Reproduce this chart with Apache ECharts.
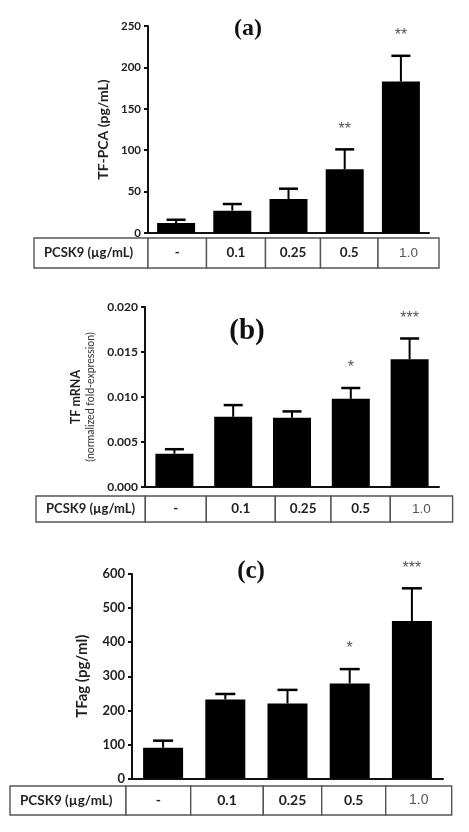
<!DOCTYPE html>
<html>
<head>
<meta charset="utf-8">
<script src="https://cdn.jsdelivr.net/npm/echarts@6/dist/echarts.min.js"></script>
<style>
html, body { margin: 0; padding: 0; background: #fff; }
#main { width: 469px; height: 832px; }
</style>
</head>
<body>
<div id="main"></div>
<script>
// doses shown in the table under each panel
var doses = ['-', '0.1', '0.25', '0.5', '1.0'];
var rowLabel = 'PCSK9 (µg/mL)';

// (a) TF-PCA
var pcaMean = [12, 27, 41, 77, 183];
var pcaSem = [4, 8, 12.5, 24, 31];
var pcaSig = ['', '', '', '**', '**'];

// (b) TF mRNA
var mrnaMean = [0.0037, 0.0078, 0.0077, 0.0098, 0.0142];
var mrnaSem = [0.0005, 0.0013, 0.0007, 0.0012, 0.0023];
var mrnaSig = ['', '', '', '*', '***'];

// (c) TFag
var tfagMean = [90, 232, 220, 279, 462];
var tfagSem = [21, 16, 40, 42, 96];
var tfagSig = ['', '', '', '*', '***'];

var myChart = echarts.init(document.getElementById('main'));

var panels = [{
    tag: 'a', mean: pcaMean, sem: pcaSem, sig: pcaSig,
    max: 250, step: 50, digits: 0, labelSize: 11.5,
    name: 'TF-PCA (pg/mL)', nameGap: 32,
    nameStyle: { fontSize: 14, fontWeight: 'bold', color: '#222', fontFamily: 'Lato' },
    grid: { left: 148, top: 26, width: 281, height: 207 }, barWidth: 38,
    title: { x: 243, y: 12, size: 24 },
    table: { left: 34, top: 238, height: 30, size: 13.5, edges: [0, 114, 172.5, 231.5, 286.5, 344, 405] }
}, {
    tag: 'b', mean: mrnaMean, sem: mrnaSem, sig: mrnaSig,
    max: 0.02, step: 0.005, digits: 3, labelSize: 12,
    name: '{t|TF mRNA}\n{s|(normalized fold-expression)}', nameGap: 48,
    nameStyle: {
        rich: {
            t: { fontSize: 12.5, fontWeight: 'bold', color: '#222', fontFamily: 'Lato', lineHeight: 17 },
            s: { fontSize: 10.5, color: '#333', fontFamily: 'Lato', lineHeight: 13 }
        }
    },
    grid: { left: 145, top: 307, width: 294, height: 180 }, barWidth: 38,
    title: { x: 242, y: 312, size: 29 },
    table: { left: 36, top: 496, height: 26, size: 13.5, edges: [0, 109.3, 170.3, 239.3, 295, 354.3, 416.6] }
}, {
    tag: 'c', mean: tfagMean, sem: tfagSem, sig: tfagSig,
    max: 600, step: 100, digits: 0, labelSize: 13,
    name: 'TFag (pg/ml)', nameGap: 42,
    nameStyle: { fontSize: 15, fontWeight: 'bold', color: '#222', fontFamily: 'Lato' },
    grid: { left: 132, top: 574, width: 311, height: 204.5 }, barWidth: 40,
    title: { x: 246, y: 554, size: 25 },
    table: { left: 10, top: 786, height: 29, size: 14, edges: [0, 116, 180.7, 253.3, 311.7, 375.7, 441.7] }
}];

var option = {
    animation: false,
    backgroundColor: '#fff',
    title: [],
    grid: [],
    xAxis: [],
    yAxis: [],
    series: []
};

panels.forEach(function (p, k) {
    var g = 2 * k; // bar grid
    var t = 2 * k + 1; // table grid

    option.title.push({
        text: '{p|(}{l|' + p.tag + '}{p|)}',
        left: p.title.x,
        top: p.title.y,
        textAlign: 'center',
        textStyle: {
            rich: {
                p: { fontFamily: 'Liberation Serif', fontSize: p.title.size, color: '#111' },
                l: { fontFamily: 'Liberation Serif', fontSize: p.title.size, fontWeight: 'bold', color: '#111' }
            }
        }
    });

    option.grid.push(p.grid);
    option.grid.push({ left: p.table.left, top: p.table.top, width: p.table.edges[6], height: p.table.height });

    option.xAxis.push({
        gridIndex: g,
        type: 'category',
        data: doses,
        axisLine: { lineStyle: { color: '#111', width: 2 } },
        axisTick: { show: false },
        axisLabel: { show: false }
    });
    option.xAxis.push({ gridIndex: t, type: 'value', min: 0, max: p.table.edges[6], show: false });

    option.yAxis.push({
        gridIndex: g,
        type: 'value',
        min: 0,
        max: p.max,
        interval: p.step,
        name: p.name,
        nameLocation: 'middle',
        nameGap: p.nameGap,
        nameTextStyle: p.nameStyle,
        axisLine: { show: true, lineStyle: { color: '#111', width: 2 } },
        axisTick: { show: true, length: 4, lineStyle: { color: '#111', width: 2 } },
        splitLine: { show: false },
        axisLabel: {
            color: '#222', fontFamily: 'Lato', fontWeight: 'bold', fontSize: p.labelSize, margin: 7,
            formatter: function (v) { return v.toFixed(p.digits); }
        }
    });
    option.yAxis.push({ gridIndex: t, type: 'value', min: 0, max: 1, show: false });

    // bars
    option.series.push({
        type: 'bar',
        xAxisIndex: g,
        yAxisIndex: g,
        data: p.mean,
        barWidth: p.barWidth,
        itemStyle: { color: '#000' },
        z: 2
    });

    // upper error bars + significance marks
    option.series.push({
        type: 'custom',
        xAxisIndex: g,
        yAxisIndex: g,
        clip: false,
        z: 3,
        data: p.mean.map(function (m, i) { return [i, m, m + p.sem[i]]; }),
        renderItem: function (params, api) {
            var base = api.coord([api.value(0), api.value(1)]);
            var top = api.coord([api.value(0), api.value(2)]);
            var half = p.barWidth / 4;
            var kids = [{
                type: 'line',
                shape: { x1: base[0], y1: base[1], x2: top[0], y2: top[1] },
                style: { stroke: '#000', lineWidth: 2 }
            }, {
                type: 'line',
                shape: { x1: top[0] - half, y1: top[1], x2: top[0] + half, y2: top[1] },
                style: { stroke: '#000', lineWidth: 2.5 }
            }];
            var s = p.sig[params.dataIndex];
            if (s) {
                kids.push({
                    type: 'text',
                    style: {
                        text: s, x: top[0], y: top[1] - 20,
                        align: 'center', verticalAlign: 'middle',
                        fill: '#555', fontSize: 16, fontFamily: 'Liberation Sans'
                    }
                });
            }
            return { type: 'group', children: kids };
        }
    });

    // dose table
    var labels = [rowLabel].concat(doses);
    var e = p.table.edges;
    option.series.push({
        type: 'custom',
        xAxisIndex: t,
        yAxisIndex: t,
        clip: false,
        data: labels.map(function (l, i) { return [e[i], e[i + 1], 0]; }),
        renderItem: function (params, api) {
            var i = params.dataIndex;
            var a = api.coord([api.value(0), 1]);
            var b = api.coord([api.value(1), 0]);
            var last = i === labels.length - 1;
            return {
                type: 'group',
                children: [{
                    type: 'rect',
                    shape: { x: a[0], y: a[1], width: b[0] - a[0], height: b[1] - a[1] },
                    style: { fill: '#fff', stroke: '#555', lineWidth: 1.4 }
                }, {
                    type: 'text',
                    style: {
                        text: labels[i],
                        x: i === 0 ? a[0] + 10 : (a[0] + b[0]) / 2,
                        y: (a[1] + b[1]) / 2,
                        align: i === 0 ? 'left' : 'center',
                        verticalAlign: 'middle',
                        fill: last ? '#555' : '#222',
                        fontSize: i === 0 ? p.table.size - 0.5 : p.table.size,
                        fontWeight: last ? 'normal' : 'bold',
                        fontFamily: last ? 'Liberation Sans' : 'Lato'
                    }
                }]
            };
        }
    });
});

myChart.setOption(option);
</script>
</body>
</html>
